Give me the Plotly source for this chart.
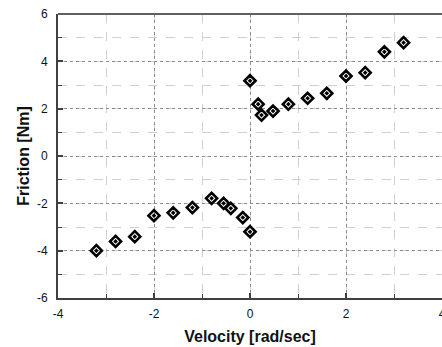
import plotly.graph_objects as go

velocity = [-3.2, -2.8, -2.4, -2.0, -1.6, -1.2, -0.8, -0.55, -0.4, -0.15, 0.0,
            0.0, 0.17, 0.24, 0.48, 0.8, 1.2, 1.6, 2.0, 2.4, 2.8, 3.2]
friction = [-4.0, -3.61, -3.41, -2.52, -2.4, -2.18, -1.79, -2.0, -2.21, -2.6, -3.2,
            3.18, 2.19, 1.73, 1.9, 2.19, 2.44, 2.65, 3.38, 3.52, 4.4, 4.79]

x_ticks = [-4, -2, 0, 2, 4]
y_ticks = [-6, -4, -2, 0, 2, 4, 6]

fig = go.Figure()
fig.add_trace(go.Scatter(
    x=velocity, y=friction, mode="markers",
    marker=dict(symbol="diamond-open-dot", size=8.5, color="black",
                line=dict(color="black", width=2.6)),
    showlegend=False, cliponaxis=False,
))

axis_common = dict(
    showline=True, linecolor="#404040", linewidth=2,
    ticks="inside", ticklen=5, tickwidth=1.5, tickcolor="#404040",
    showgrid=True, gridcolor="#8c8c8c", gridwidth=1, griddash="dot",
    zeroline=False, ticklabeloverflow="allow",
    tickfont=dict(family="Liberation Sans, Arial", size=12, color="#111"),
    minor=dict(dtick=1, ticks="inside", ticklen=4, tickwidth=1.2, tickcolor="#404040",
               showgrid=True, gridcolor="#d0d0d0", gridwidth=1, griddash="dash"),
)

fig.update_xaxes(
    range=[-4, 4], tickvals=x_ticks, ticktext=[str(v) for v in x_ticks],
    title=dict(text="<b>Velocity [rad/sec]</b>", standoff=10,
               font=dict(family="Liberation Sans, Arial", size=16, color="#111")),
    ticklabelstandoff=4,
    **axis_common,
)
fig.update_yaxes(
    range=[-6, 6], tickvals=y_ticks, ticktext=[str(v) for v in y_ticks],
    title=dict(text="<b>Friction [Nm]</b>", standoff=3,
               font=dict(family="Liberation Sans, Arial", size=16, color="#111")),
    ticklabelstandoff=6,
    **axis_common,
)

fig.add_shape(type="line", xref="paper", yref="paper", x0=0, x1=1, y0=1, y1=1,
              line=dict(color="#606060", width=2))

fig.update_layout(
    width=442, height=347,
    margin=dict(l=58, r=0, t=14, b=49, autoexpand=False),
    plot_bgcolor="white", paper_bgcolor="white",
)

fig.write_html("out.html")
